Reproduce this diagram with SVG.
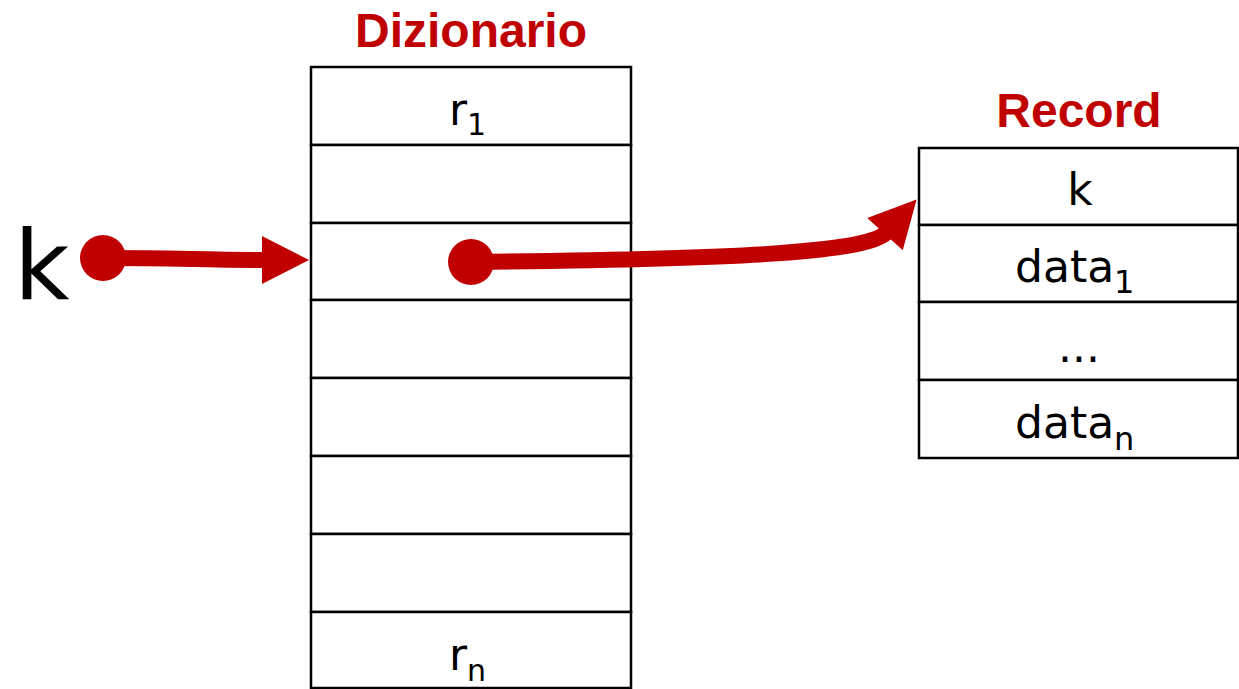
<svg xmlns="http://www.w3.org/2000/svg" width="1239" height="689" viewBox="0 0 1239 689">
<style>
.cell{fill:#fff;stroke:#000;stroke-width:2.5}
.t{font-family:"DejaVu Sans","Liberation Sans",sans-serif;font-size:44px;fill:#000}
.sub{font-size:30px}
.sub2{font-size:32px}
.title{font-family:"Liberation Sans","Noto Sans",sans-serif;font-weight:bold;font-size:48px;fill:#C00000;text-anchor:middle}
.conn{fill:none;stroke:#C00000;stroke-width:16}
</style>
<defs>
<marker id="head" markerUnits="userSpaceOnUse" markerWidth="50" markerHeight="50" refX="3" refY="24" orient="auto" overflow="visible">
<path d="M0,0 L47,24 L0,48 z" fill="#C00000"/>
</marker>
<marker id="dot" markerUnits="userSpaceOnUse" markerWidth="50" markerHeight="50" refX="0" refY="0" overflow="visible">
<circle cx="0" cy="0" r="23" fill="#C00000"/>
</marker>
</defs>
<rect width="1239" height="689" fill="#fff"/>

<g id="dizionario">
<text class="title" x="471" y="47">Dizionario</text>
<rect class="cell" x="311" y="67" width="320" height="78"/>
<rect class="cell" x="311" y="145" width="320" height="78"/>
<rect class="cell" x="311" y="223" width="320" height="77"/>
<rect class="cell" x="311" y="300" width="320" height="78"/>
<rect class="cell" x="311" y="378" width="320" height="78"/>
<rect class="cell" x="311" y="456" width="320" height="78"/>
<rect class="cell" x="311" y="534" width="320" height="78"/>
<rect class="cell" x="311" y="612" width="320" height="76"/>
<text class="t" x="449" y="125">r<tspan class="sub" dy="10">1</tspan></text>
<text class="t" x="449" y="670">r<tspan class="sub" dy="11">n</tspan></text>
</g>

<g id="record">
<text class="title" x="1079" y="127">Record</text>
<rect class="cell" x="919" y="148" width="319" height="77"/>
<rect class="cell" x="919" y="225" width="319" height="77"/>
<rect class="cell" x="919" y="302" width="319" height="78"/>
<rect class="cell" x="919" y="380" width="319" height="78"/>
<text class="t" x="1080" y="205" text-anchor="middle">k</text>
<text class="t" x="1015" y="282">data<tspan class="sub2" dy="11">1</tspan></text>
<text class="t" x="1079" y="362" text-anchor="middle">...</text>
<text class="t" x="1015" y="438">data<tspan class="sub2" dy="12">n</tspan></text>
</g>

<g id="key">
<text class="t" x="14" y="299" style="font-size:96px">k</text>
</g>

<g id="connectors">
<path class="conn" d="M103,258 C180,258 200,260 265,260" marker-start="url(#dot)" marker-end="url(#head)"/>
<path class="conn" d="M471,262 C720,259 867,254 887,232" marker-start="url(#dot)" marker-end="url(#head)"/>
</g>
</svg>
